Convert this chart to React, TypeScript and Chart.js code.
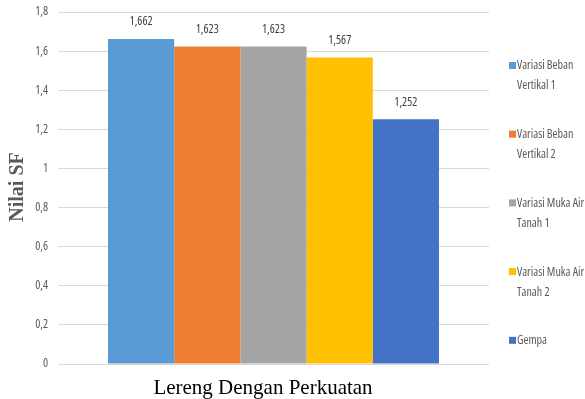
import React, { useEffect, useRef } from "react";
import { Chart, registerables } from "chart.js";

Chart.register(...registerables);

// Safety factor results for the reinforced slope
const categories = ["Lereng Dengan Perkuatan"];
const seriesNames: string[][] = [
  ["Variasi Beban", "Vertikal 1"],
  ["Variasi Beban", "Vertikal 2"],
  ["Variasi Muka Air", "Tanah 1"],
  ["Variasi Muka Air", "Tanah 2"],
  ["Gempa"],
];
const sfValues = [1.662, 1.623, 1.623, 1.567, 1.252];
const seriesColors = ["#5B9BD5", "#ED7D31", "#A5A5A5", "#FFC000", "#4472C4"];
const yTicks = [0, 0.2, 0.4, 0.6, 0.8, 1, 1.2, 1.4, 1.6, 1.8];
const yAxisTitle = "Nilai SF";

const narrowFont = '"Open Sans", Roboto, sans-serif';
const serifFont = '"Liberation Serif", "DejaVu Serif", serif';

const fmt = (v: number, digits?: number) =>
  (digits === undefined ? String(Math.round(v * 10) / 10) : v.toFixed(digits)).replace(".", ",");

const setNarrow = (ctx: any, size: number) => {
  ctx.font = `${size}px ${narrowFont}`;
  ctx.fontStretch = "condensed";
};

const decorations = {
  id: "decorations",
  afterDraw(chart: any) {
    const ctx = chart.ctx;
    const area = chart.chartArea;
    const yScale = chart.scales.y;
    ctx.save();

    // y tick labels in a condensed face
    setNarrow(ctx, 12);
    ctx.fillStyle = "#595959";
    ctx.textAlign = "right";
    ctx.textBaseline = "middle";
    yScale.ticks.forEach((t: any) => {
      ctx.fillText(fmt(t.value), area.left - 10, yScale.getPixelForValue(t.value));
    });

    // value labels above each bar
    setNarrow(ctx, 12);
    ctx.fillStyle = "#404040";
    ctx.textAlign = "center";
    chart.data.datasets.forEach((ds: any, i: number) => {
      const bar = chart.getDatasetMeta(i).data[0];
      if (!bar) return;
      ctx.fillText(fmt(ds.data[0], 3), bar.x, bar.y - 17);
    });

    // legend on the right
    const firstY = 66;
    const itemGap = 68.7;
    const lineGap = 20;
    ctx.textAlign = "left";
    setNarrow(ctx, 12);
    seriesNames.forEach((lines, i) => {
      const y = firstY + i * itemGap;
      ctx.fillStyle = seriesColors[i];
      ctx.fillRect(509, y - 4, 7, 7);
      ctx.fillStyle = "#595959";
      lines.forEach((line, j) => {
        ctx.fillText(line, 517, y + j * lineGap);
      });
    });

    ctx.fontStretch = "normal";

    // y axis title
    ctx.save();
    ctx.translate(18, 187);
    ctx.rotate(-Math.PI / 2);
    ctx.textAlign = "center";
    ctx.font = `bold 20px ${serifFont}`;
    ctx.fillStyle = "#595959";
    ctx.fillText(yAxisTitle, 0, 0);
    ctx.restore();

    // category title below the plot
    ctx.textAlign = "center";
    ctx.font = `21px ${serifFont}`;
    ctx.fillStyle = "#000000";
    ctx.fillText(categories[0], 263, area.bottom + 24);

    ctx.restore();
  },
};

export default function App() {
  const canvasRef = useRef<HTMLCanvasElement | null>(null);

  useEffect(() => {
    document.body.style.margin = "0";
    const canvas = canvasRef.current;
    if (!canvas) return;

    const chart = new Chart(canvas, {
      type: "bar",
      data: {
        labels: categories,
        datasets: seriesNames.map((name, i) => ({
          label: name.join(" "),
          data: [sfValues[i]],
          backgroundColor: seriesColors[i],
          borderWidth: 0,
          categoryPercentage: 0.768,
          barPercentage: 1,
        })),
      },
      options: {
        responsive: false,
        animation: false,
        layout: { padding: { top: 12, right: 96, bottom: 35, left: 0 } },
        plugins: {
          legend: { display: false },
          tooltip: { enabled: false },
          title: { display: false },
        },
        scales: {
          x: { display: false },
          y: {
            min: 0,
            max: 1.8,
            afterFit(scale: any) {
              scale.width = 58;
            },
            afterBuildTicks(scale: any) {
              scale.ticks = yTicks.map((v) => ({ value: v }));
            },
            border: { display: false },
            grid: { color: "#D9D9D9", drawTicks: false, lineWidth: 1 },
            // tick labels are painted by the decorations plugin in a condensed face
            ticks: { display: false },
          },
        },
      },
      plugins: [decorations],
    });

    return () => chart.destroy();
  }, []);

  return (
    <div style={{ width: 585, height: 399, background: "#fff" }}>
      <canvas ref={canvasRef} width={585} height={399} />
    </div>
  );
}
